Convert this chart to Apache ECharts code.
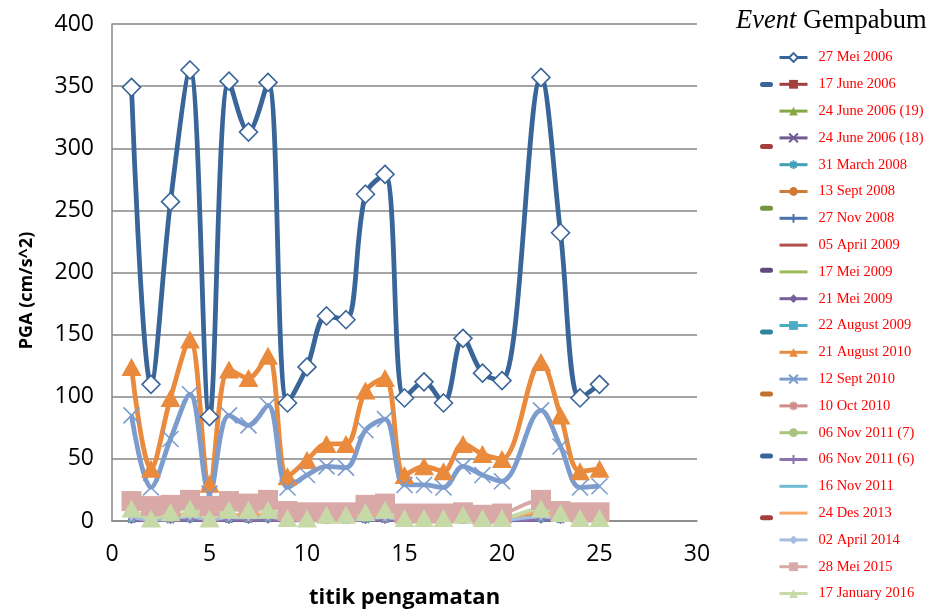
<!DOCTYPE html>
<html>
<head>
<meta charset="utf-8">
<script src="https://cdn.jsdelivr.net/npm/echarts@6/dist/echarts.min.js"></script>
<style>
  html, body { margin: 0; padding: 0; background: #fff; }
  #chart { width: 931px; height: 614px; }
</style>
</head>
<body>
<div id="chart"></div>
<script>
// Observation points (no reading at point 21)
const titik = [1, 2, 3, 4, 5, 6, 7, 8, 9, 10, 11, 12, 13, 14, 15, 16, 17, 18, 19, 20, 22, 23, 24, 25];

// PGA (cm/s^2) per event
const pga27Mei2006    = [349, 110, 257, 363, 84, 354, 313, 353, 95, 124, 165, 162, 263, 279, 99, 112, 95, 147, 119, 113, 357, 232, 99, 110];
const pga17Jun2006    = [4, 1, 3, 5, 1, 4, 4, 5, 1, 2, 2, 2, 3, 4, 1, 1, 1, 2, 1, 1, 5, 3, 1, 1];
const pga24Jun2006a   = [2, 0.5, 1.5, 2.5, 0.5, 2, 2, 2.5, 0.5, 1, 1, 1, 1.5, 2, 0.5, 0.5, 0.5, 1, 0.5, 0.5, 2.5, 1.5, 0.5, 0.5];
const pga24Jun2006b   = [1.5, 0.4, 1, 2, 0.4, 1.5, 1.5, 2, 0.4, 0.8, 0.9, 0.9, 1.2, 1.5, 0.4, 0.4, 0.4, 0.8, 0.4, 0.4, 2, 1.2, 0.4, 0.4];
const pga31Mar2008    = [1, 0.3, 0.8, 1.2, 0.3, 1, 1, 1.2, 0.3, 0.5, 0.6, 0.6, 0.9, 1, 0.3, 0.3, 0.3, 0.5, 0.3, 0.3, 1.3, 0.8, 0.3, 0.3];
const pga13Sep2008    = [6, 1, 3, 4, 1, 3, 3, 4, 1, 1.5, 2, 2, 2.5, 3, 1, 1, 1, 1.5, 1, 1, 4, 2, 1, 1];
const pga27Nov2008    = [2.5, 0.8, 1.8, 3, 0.8, 2.5, 2.4, 2.9, 0.8, 1.2, 1.4, 1.4, 2, 2.4, 0.8, 0.8, 0.8, 1.2, 0.8, 0.8, 3, 1.8, 0.8, 0.8];
const pga05Apr2009    = [1.2, 0.4, 0.9, 1.5, 0.4, 1.2, 1.1, 1.4, 0.4, 0.6, 0.7, 0.7, 1, 1.2, 0.4, 0.4, 0.4, 0.6, 0.4, 0.4, 1.5, 0.9, 0.4, 0.4];
const pga17Mei2009    = [3, 1, 2, 3, 1, 3, 3, 3, 1, 1, 1.5, 1.5, 2, 2.5, 1, 1, 1, 1.5, 1, 1, 3, 2, 1, 1];
const pga21Mei2009    = [0.5, 0.2, 0.4, 0.6, 0.2, 0.5, 0.5, 0.6, 0.2, 0.3, 0.3, 0.3, 0.4, 0.5, 0.2, 0.2, 0.2, 0.3, 0.2, 0.2, 0.6, 0.4, 0.2, 0.2];
const pga22Aug2009    = [1.8, 0.6, 1.3, 2.2, 0.6, 1.8, 1.7, 2.1, 0.6, 0.9, 1, 1, 1.5, 1.8, 0.6, 0.6, 0.6, 0.9, 0.6, 0.6, 2.2, 1.3, 0.6, 0.6];
const pga21Aug2010    = [124, 42, 99, 146, 30, 122, 115, 133, 36, 49, 62, 62, 105, 115, 37, 44, 40, 62, 54, 50, 128, 85, 40, 42];
const pga12Sep2010    = [85, 27, 66, 102, 22, 85, 77, 93, 27, 37, 44, 43, 73, 82, 29, 29, 27, 44, 37, 32, 89, 60, 27, 28];
const pga10Oct2010    = [2.2, 0.7, 1.6, 2.6, 0.7, 2.2, 2, 2.5, 0.7, 1, 1.2, 1.2, 1.8, 2.1, 0.7, 0.7, 0.7, 1, 0.7, 0.7, 2.6, 1.6, 0.7, 0.7];
const pga06Nov2011a   = [3.5, 1.2, 2.5, 4, 1.2, 3.4, 3.2, 3.8, 1.2, 1.6, 1.9, 1.9, 2.8, 3.2, 1.2, 1.2, 1.2, 1.7, 1.2, 1.2, 4, 2.6, 1.2, 1.2];
const pga06Nov2011b   = [1.4, 0.5, 1, 1.7, 0.5, 1.4, 1.3, 1.6, 0.5, 0.7, 0.8, 0.8, 1.1, 1.3, 0.5, 0.5, 0.5, 0.7, 0.5, 0.5, 1.7, 1, 0.5, 0.5];
const pga16Nov2011    = [5, 1.5, 3.5, 6, 1.5, 5, 4.5, 5.5, 1.5, 2.5, 3, 3, 4, 5, 1.5, 1.5, 1.5, 2.5, 1.5, 2, 8, 4, 1.5, 1.5];
const pga24Des2013    = [6, 1.5, 4, 6, 1.5, 5, 5, 6, 1.5, 2.5, 3, 3, 4.5, 5, 1.5, 1.5, 1.5, 2.5, 1.5, 2, 7, 4, 1.5, 1.5];
const pga02Apr2014    = [2.8, 0.9, 2, 3.3, 0.9, 2.8, 2.6, 3.2, 0.9, 1.3, 1.5, 1.5, 2.2, 2.6, 0.9, 0.9, 0.9, 1.3, 0.9, 0.9, 3.3, 2, 0.9, 0.9];
const pga28Mei2015    = [16, 12, 13, 17, 12, 16, 14, 17, 8, 7, 7, 7, 13, 14, 6, 6, 6, 7, 5, 6, 17, 8, 7, 7];
const pga17Jan2016    = [10, 2, 7, 10, 2, 9, 9, 9, 2.5, 2, 5, 5, 7, 9, 2.5, 2.5, 2.5, 5, 2.5, 2.5, 10, 6.5, 2.5, 2.5];

// Axis ticks
const yTicks = { min: 0, max: 400, step: 50 };
const xTicks = { min: 0, max: 30, step: 5 };

const X_MARK = 'path://M0,0L10,10M10,0L0,10';
const STAR_MARK = 'path://M0,5L10,5M5,0L5,10M1.5,1.5L8.5,8.5M8.5,1.5L1.5,8.5';
const PLUS_MARK = 'path://M5,0L5,10M0,5L10,5';
// legend icon for series drawn without markers: a plain stroke
const PLAIN_LINE_ICON = 'path://M0,0L28,0L28,3L0,3Z';
const DASH_LINE_ICON = 'path://M0,4L28,4L28,7L0,7Z';

function pairs(vals) {
  return titik.map((x, i) => [x, vals[i]]);
}

function lineSeries(name, vals, color, symbol, size, opt) {
  opt = opt || {};
  const stroked = symbol === X_MARK || symbol === STAR_MARK || symbol === PLUS_MARK;
  return {
    name: name,
    type: 'line',
    smooth: 0.35,
    data: pairs(vals),
    symbol: symbol,
    symbolSize: size,
    showSymbol: symbol !== 'none',
    lineStyle: { color: color, width: opt.width || 3 },
    itemStyle: opt.hollow
      ? { color: '#ffffff', borderColor: color, borderWidth: 1.6 }
      : stroked
        ? { color: color, borderColor: color, borderWidth: 1.6 }
        : { color: color, borderWidth: 0 },
    emphasis: { disabled: true },
    animation: false,
    z: 2,
    legendIcon: opt.legendIcon
  };
}

const series = [
  lineSeries('27 Mei 2006', pga27Mei2006, '#3A6599', 'diamond', 18, { hollow: true, width: 4.8 }),
  lineSeries('17 June 2006', pga17Jun2006, '#A3403D', 'rect', 7),
  lineSeries('24 June 2006 (19)', pga24Jun2006a, '#86A843', 'triangle', 7),
  lineSeries('24 June 2006 (18)', pga24Jun2006b, '#705A92', X_MARK, 7),
  lineSeries('31 March 2008', pga31Mar2008, '#3FA0B8', STAR_MARK, 7),
  lineSeries('13 Sept 2008', pga13Sep2008, '#D07A34', 'circle', 7),
  lineSeries('27 Nov 2008', pga27Nov2008, '#4A74AA', PLUS_MARK, 7),
  lineSeries('05 April 2009', pga05Apr2009, '#B0504C', 'none', 0, { legendIcon: PLAIN_LINE_ICON }),
  lineSeries('17 Mei 2009', pga17Mei2009, '#9BBB59', 'none', 0, { legendIcon: PLAIN_LINE_ICON }),
  lineSeries('21 Mei 2009', pga21Mei2009, '#7A5E9C', 'diamond', 7),
  lineSeries('22 August 2009', pga22Aug2009, '#4BACC6', 'rect', 7),
  lineSeries('21 August 2010', pga21Aug2010, '#EA8A3D', 'triangle', [20, 18], { width: 4.8 }),
  lineSeries('12 Sept 2010', pga12Sep2010, '#7C9CCD', X_MARK, 16, { width: 4.8 }),
  lineSeries('10 Oct 2010', pga10Oct2010, '#D08A88', STAR_MARK, 7),
  lineSeries('06 Nov 2011 (7)', pga06Nov2011a, '#A9C47E', 'circle', 7),
  lineSeries('06 Nov 2011 (6)', pga06Nov2011b, '#8A74AE', PLUS_MARK, 7),
  lineSeries('16 Nov 2011', pga16Nov2011, '#6DBAD2', 'rect', [8, 3], { legendIcon: DASH_LINE_ICON }),
  lineSeries('24 Des 2013', pga24Des2013, '#F9A865', 'rect', [8, 3], { legendIcon: DASH_LINE_ICON }),
  lineSeries('02 April 2014', pga02Apr2014, '#A6BCE0', 'diamond', 7),
  lineSeries('28 Mei 2015', pga28Mei2015, '#D9A9A8', 'rect', 20, { width: 4 }),
  lineSeries('17 January 2016', pga17Jan2016, '#C6D9A6', 'triangle', [20, 18], { width: 4 })
];

// Short coloured dashes beside the legend column
const dashColors = ['#3A6599', '#A3403D', '#77933C', '#5F4A80', '#31849B', '#C0702F', '#3A6599', '#A3403D'];
const dashTop = 82, dashStep = 61.9;
const dashes = dashColors.map((c, i) => ({
  type: 'rect',
  left: 760,
  top: dashTop + i * dashStep,
  shape: { width: 13, height: 5, r: 2.5 },
  style: { fill: c },
  silent: true
}));

const legendData = series.map(s => s.legendIcon
  ? { name: s.name, icon: s.legendIcon, itemStyle: { color: s.lineStyle.color } }
  : { name: s.name });

const chart = echarts.init(document.getElementById('chart'), null, { renderer: 'canvas' });
chart.setOption({
  backgroundColor: '#ffffff',
  animation: false,
  title: {
    text: '{i|Event} Gempabum',
    left: 736,
    top: 8,
    padding: 0,
    textStyle: {
      fontFamily: 'Liberation Serif',
      fontSize: 26.5,
      fontWeight: 'normal',
      color: '#000',
      rich: {
        i: { fontFamily: 'Liberation Serif', fontSize: 26.5, fontStyle: 'italic', color: '#000' }
      }
    }
  },
  legend: {
    orient: 'vertical',
    left: 778,
    top: 50,
    padding: 0,
    itemWidth: 28,
    itemHeight: 11,
    itemGap: 11.8,
    lineStyle: { width: 3 },
    textStyle: {
      fontFamily: 'Liberation Serif',
      fontSize: 14.5,
      lineHeight: 14,
      color: '#FF0000',
      padding: [0, 0, 0, 6]
    },
    selectedMode: false,
    data: legendData
  },
  grid: { left: 112, right: 234, top: 24, bottom: 91, containLabel: false },
  xAxis: {
    type: 'value',
    min: xTicks.min,
    max: xTicks.max,
    interval: xTicks.step,
    name: 'titik pengamatan',
    nameLocation: 'middle',
    nameGap: 66,
    nameTextStyle: { fontFamily: 'Open Sans', fontWeight: 'bold', fontSize: 22, color: '#000' },
    axisLine: { show: true, lineStyle: { color: '#868686', width: 1.5 } },
    axisTick: { show: false },
    splitLine: { show: false },
    axisLabel: { fontFamily: 'Open Sans', fontSize: 23, color: '#000', margin: 22 }
  },
  yAxis: {
    type: 'value',
    min: yTicks.min,
    max: yTicks.max,
    interval: yTicks.step,
    name: 'PGA (cm/s^2)',
    nameLocation: 'middle',
    nameRotate: 90,
    nameGap: 76,
    nameTextStyle: { fontFamily: 'Open Sans', fontWeight: 'bold', fontSize: 18, color: '#000', padding: [0, 36, 0, 0] },
    axisLine: { show: true, lineStyle: { color: '#868686', width: 1.5 } },
    axisTick: { show: false },
    splitLine: { show: true, lineStyle: { color: '#868686', width: 1.5 } },
    axisLabel: { fontFamily: 'Open Sans', fontSize: 23, color: '#000', margin: 18 }
  },
  graphic: dashes,
  series: series
});
</script>
</body>
</html>
